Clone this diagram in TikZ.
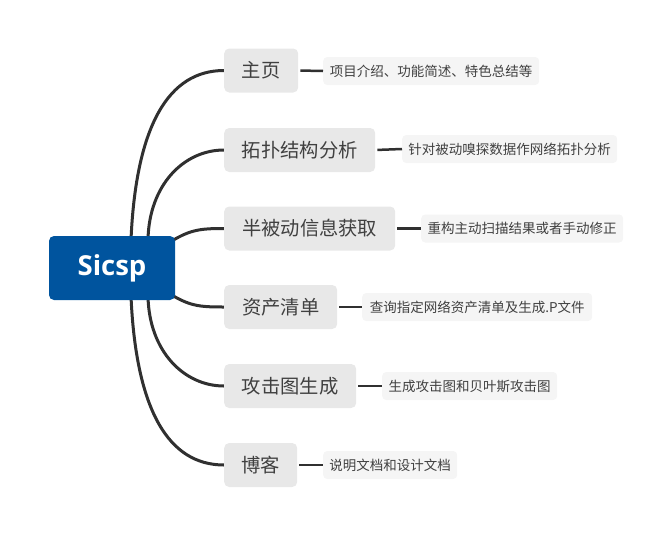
\documentclass[tikz,border=0pt]{standalone}
\usepackage{fontspec}
\setmainfont{Noto Sans CJK SC}
\newfontfamily\rootfont{Open Sans}
\usetikzlibrary{backgrounds}
\definecolor{rootblue}{RGB}{0,84,158}
\definecolor{branchfill}{RGB}{232,232,232}
\definecolor{notefill}{RGB}{245,245,245}
\definecolor{linecol}{RGB}{48,48,48}
\definecolor{txt}{RGB}{64,64,64}
\begin{document}
\begin{tikzpicture}[x=1pt,y=-1pt,
  rootbox/.style={fill=rootblue, rounded corners=5pt, text=white, font=\rootfont\bfseries\fontsize{27.5}{27.5}\selectfont, minimum width=126pt, minimum height=64pt, inner sep=0pt},
  branchbox/.style={fill=branchfill, rounded corners=5pt, text=txt, font=\fontsize{19.3}{19.3}\selectfont, minimum height=44pt, inner sep=0pt, anchor=west},
  notebox/.style={fill=notefill, rounded corners=4pt, text=txt, font=\fontsize{13.5}{13.5}\selectfont, minimum height=28pt, inner sep=0pt, anchor=west},
  link/.style={draw=linecol, line width=3pt},
  notelink/.style={draw=linecol, line width=2.5pt, shorten <=2pt},
]
\useasboundingbox (0,0) rectangle (672,536);

\node[rootbox] (root) at (112,268) {Sicsp};

\node[branchbox, minimum width=74pt]  (b1) at (224,70.5)  {主页};
\node[branchbox, minimum width=151pt] (b2) at (224,150)   {拓扑结构分析};
\node[branchbox, minimum width=171pt] (b3) at (224,228.5) {半被动信息获取};
\node[branchbox, minimum width=113pt] (b4) at (224,307)   {资产清单};
\node[branchbox, minimum width=132pt] (b5) at (224,386)   {攻击图生成};
\node[branchbox, minimum width=73pt]  (b6) at (224,465)   {博客};

\node[notebox, minimum width=216pt] (n1) at (323,71)    {项目介绍、功能简述、特色总结等};
\node[notebox, minimum width=215pt] (n2) at (402,149)   {针对被动嗅探数据作网络拓扑分析};
\node[notebox, minimum width=202pt] (n3) at (421,228.5) {重构主动扫描结果或者手动修正};
\node[notebox, minimum width=230pt] (n4) at (362,307)   {查询指定网络资产清单及生成.P文件};
\node[notebox, minimum width=175pt] (n5) at (382,386)   {生成攻击图和贝叶斯攻击图};
\node[notebox, minimum width=134pt] (n6) at (323,465)   {说明文档和设计文档};

\begin{scope}[on background layer]
\draw[link] ([xshift=19pt,yshift=-4pt]root.north) .. controls +(5,-115) and +(-55,0) .. (b1.west);
\draw[link] ([xshift=36pt,yshift=-4pt]root.north) .. controls +(1,-55) and +(-40,0) .. (b2.west);
\draw[link] ([xshift=-8pt,yshift=-8pt]root.north east) .. controls +(22,-14) and +(-25,0) .. (b3.west);
\draw[link] ([xshift=-8pt,yshift=8pt]root.south east) .. controls +(22,14) and +(-25,0) .. (b4.west);
\draw[link] ([xshift=36pt,yshift=4pt]root.south) .. controls +(1,55) and +(-40,0) .. (b5.west);
\draw[link] ([xshift=19pt,yshift=4pt]root.south) .. controls +(5,115) and +(-55,0) .. (b6.west);
\end{scope}

\draw[notelink] (b1.east) -- (n1.west);
\draw[notelink] (b2.east) -- (n2.west);
\draw[notelink] (b3.east) -- (n3.west);
\draw[notelink] (b4.east) -- (n4.west);
\draw[notelink] (b5.east) -- (n5.west);
\draw[notelink] (b6.east) -- (n6.west);
\end{tikzpicture}
\end{document}
